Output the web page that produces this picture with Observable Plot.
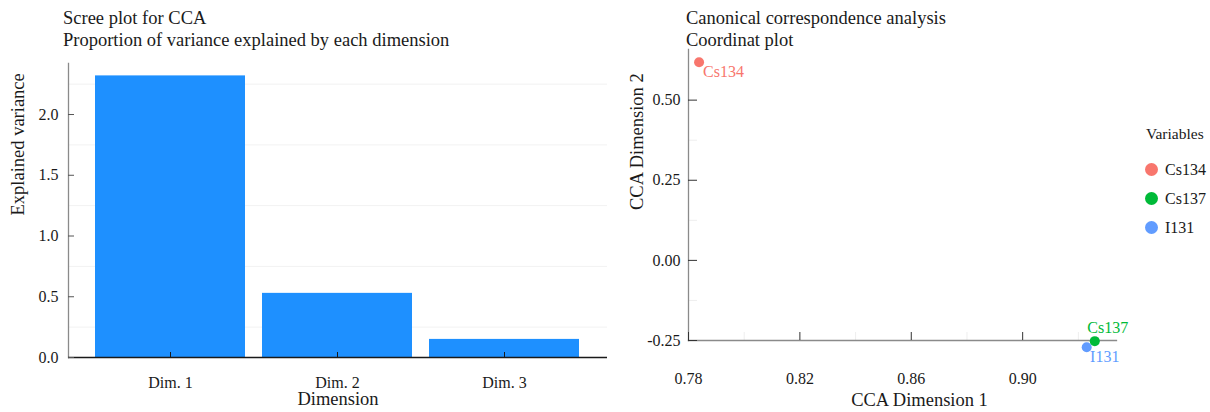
<!DOCTYPE html>
<html>
<head>
<meta charset="utf-8">
<script src="https://cdn.jsdelivr.net/npm/d3@7"></script>
<script src="https://cdn.jsdelivr.net/npm/@observablehq/plot@0.6"></script>
<style>
  html, body { margin: 0; padding: 0; background: #fff; }
  #wrap { position: relative; width: 1210px; height: 412px; overflow: hidden; font-family: "Liberation Serif", "Times New Roman", serif; color: #1a1a1a; }
  .panel { position: absolute; top: 0; }
  .title { position: absolute; top: 7px; font-size: 18.5px; line-height: 22.4px; white-space: nowrap; }
  #legend { position: absolute; left: 1146px; top: 124px; font-size: 15.5px; }
  .lg-title { height: 20px; line-height: 20px; margin-bottom: 18px; }
  .lg-row { position: relative; height: 29px; line-height: 16px; }
  .lg-dot { position: absolute; left: -1px; top: 1px; width: 13px; height: 13px; border-radius: 50%; }
  .lg-lab { position: absolute; left: 19px; top: 0px; font-size: 16px; }
</style>
</head>
<body>
<div id="wrap">
  <div id="left" class="panel" style="left:0px"></div>
  <div id="right" class="panel" style="left:620px"></div>
  <div class="title" style="left:63px">Scree plot for CCA<br>Proportion of variance explained by each dimension</div>
  <div class="title" style="left:686px">Canonical correspondence analysis<br>Coordinat plot</div>
  <div id="legend"></div>
</div>
<script>
// ---- Scree plot data ----
const dimensions = ["Dim. 1", "Dim. 2", "Dim. 3"];
const explainedVariance = [2.318, 0.528, 0.149];
const screeTicks = [0, 0.5, 1.0, 1.5, 2.0];
const screeMinor = [0.25, 0.75, 1.25, 1.75, 2.25];

// ---- CCA coordinate data ----
const variables = ["Cs134", "Cs137", "I131"];
const ccaDim1 = [0.7838, 0.9259, 0.9230];
const ccaDim2 = [0.618, -0.252, -0.271];
const varColors = ["#F8766D", "#00BA38", "#619CFF"];
const xTicks = [0.78, 0.82, 0.86, 0.90];
const xMinor = [0.80, 0.84, 0.88, 0.92];
const yTicks = [-0.25, 0.00, 0.25, 0.50];
const yMinor = [-0.125, 0.125, 0.375];

const font = "'Liberation Serif', 'Times New Roman', serif";

const scree = dimensions.map((d, i) => ({dim: d, value: explainedVariance[i]}));

const left = Plot.plot({
  width: 620, height: 412,
  marginLeft: 68, marginRight: 13, marginTop: 63, marginBottom: 55,
  style: {fontFamily: font, fontSize: "16px", background: "white", color: "#1a1a1a"},
  x: {domain: dimensions, paddingInner: 0.1, paddingOuter: 0.155, label: null},
  y: {domain: [0, 2.42], label: null},
  marks: [
    Plot.gridY(screeMinor, {stroke: "#f2f2f2", strokeOpacity: 1}),
    Plot.barY(scree, {x: "dim", y: "value", fill: "#1E90FF"}),
    Plot.frame({anchor: "left", stroke: "#8a8a8a", strokeWidth: 1.3}),
    Plot.ruleY([0], {stroke: "#1a1a1a", strokeWidth: 1.3}),
    Plot.axisY(screeTicks, {tickSize: 0, tickPadding: 10, tickFormat: d => d.toFixed(1), label: null, fontSize: 16}),
    Plot.axisY(screeTicks, {tickSize: -6, fill: "none", stroke: "#555", label: null}),
    Plot.axisX({tickSize: -5, fill: "none", stroke: "#1a1a1a", label: null}),
    Plot.axisX({tickSize: 0, tickPadding: 19, label: null, fontSize: 16}),
    Plot.text(["Dimension"], {text: d => d, frameAnchor: "bottom", dy: 47, fontSize: 18.5}),
    Plot.text(["Explained variance"], {text: d => d, frameAnchor: "left", rotate: -90, dx: -50, dy: 5, fontSize: 18.5})
  ]
});
document.getElementById("left").appendChild(left);

const pts = variables.map((v, i) => ({name: v, x: ccaDim1[i], y: ccaDim2[i]}));
const drawOrder = pts.slice().reverse();
const sub = n => pts.filter(d => d.name === n);

const right = Plot.plot({
  width: 590, height: 412,
  marginLeft: 68, marginRight: 94, marginTop: 49, marginBottom: 72,
  style: {fontFamily: font, fontSize: "16px", background: "white", color: "#1a1a1a"},
  x: {domain: [0.78, 0.9337], label: null},
  y: {domain: [-0.25, 0.658], label: null},
  color: {domain: variables, range: varColors},
  marks: [
    Plot.axisY(yMinor, {tickSize: -9, fill: "none", stroke: "#eeeeee", label: null}),
    Plot.axisX(xMinor, {tickSize: -8, fill: "none", stroke: "#eeeeee", label: null}),
    Plot.frame({anchor: "left", stroke: "#8a8a8a", strokeWidth: 1.3}),
    Plot.frame({anchor: "bottom", stroke: "#8a8a8a", strokeWidth: 1.3}),
    Plot.axisY(yTicks, {tickSize: 0, tickPadding: 8, tickFormat: d => d.toFixed(2), label: null, fontSize: 16}),
    Plot.axisY(yTicks, {tickSize: -9, fill: "none", stroke: "#333", label: null}),
    Plot.axisX(xTicks, {tickSize: -8, fill: "none", stroke: "#333", label: null}),
    Plot.axisX(xTicks, {tickSize: 0, tickPadding: 32, tickFormat: d => d.toFixed(2), label: null, fontSize: 16}),
    Plot.dot(drawOrder, {x: "x", y: "y", fill: "name", r: 5, stroke: null}),
    Plot.text(sub("Cs134"), {x: "x", y: "y", text: "name", fill: "name", dx: 4, dy: 10, textAnchor: "start", fontSize: 16}),
    Plot.text(sub("Cs137"), {x: "x", y: "y", text: "name", fill: "name", dx: 13, dy: -13, fontSize: 16}),
    Plot.text(sub("I131"), {x: "x", y: "y", text: "name", fill: "name", dx: 18, dy: 10, fontSize: 16}),
    Plot.text(["CCA Dimension 1"], {text: d => d, frameAnchor: "bottom", dy: 65, dx: 17, fontSize: 18.5}),
    Plot.text(["CCA Dimension 2"], {text: d => d, frameAnchor: "left", rotate: -90, dx: -51, dy: 15, fontSize: 18.5})
  ]
});
document.getElementById("right").appendChild(right);

// ---- Legend ----
const lg = document.getElementById("legend");
const t = document.createElement("div");
t.className = "lg-title"; t.textContent = "Variables";
lg.appendChild(t);
variables.forEach((v, i) => {
  const row = document.createElement("div"); row.className = "lg-row";
  const dot = document.createElement("span"); dot.className = "lg-dot"; dot.style.background = varColors[i];
  const lab = document.createElement("span"); lab.className = "lg-lab"; lab.textContent = v;
  row.appendChild(dot); row.appendChild(lab); lg.appendChild(row);
});
</script>
</body>
</html>
